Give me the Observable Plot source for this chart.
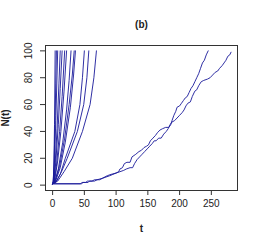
<!DOCTYPE html>
<html>
<head>
<meta charset="utf-8">
<script src="https://cdn.jsdelivr.net/npm/d3@7"></script>
<script src="https://cdn.jsdelivr.net/npm/@observablehq/plot@0.6"></script>
<style>
  html, body { margin: 0; padding: 0; background: #fff; }
  svg { display: block; }
</style>
</head>
<body>
<div id="chart"></div>
<script>
// Fast-growing paths (t, N)
const fast1 = [[0,1],[1,3],[2,15],[3,45],[4,100]];
const fast2 = [[0,1],[1,3],[2,12],[3,30],[4,52],[5,76],[6,100]];
const fast3 = [[0,1],[1,2],[3,18],[5,48],[7,82],[8,100]];
const fast4 = [[0,1],[2,3],[4,16],[7,42],[10,76],[12,100]];
const fast5 = [[0,1],[2,3],[5,17],[9,45],[12,72],[15,100]];
const fast6 = [[0,1],[2,2],[6,14],[11,40],[15,66],[19,100]];
const fast7 = [[0,1],[3,3],[8,18],[13,40],[18,70],[22,100]];
const fast8 = [[0,1],[3,2],[9,12],[16,32],[22,56],[26,78],[29,100]];
const fast9 = [[0,1],[4,3],[11,14],[19,35],[26,60],[31,82],[34,100]];
const fast10 = [[0,1],[4,2],[12,13],[20,32],[28,58],[33,82],[36,100]];
const fast11 = [[0,1],[5,2],[12,8],[20,20],[35,40],[43,60],[47,80],[50,100]];
const fast12 = [[0,1],[6,3],[14,10],[23,20],[39,40],[49,60],[54,80],[57,100]];
const fast13 = [[0,1],[8,3],[18,10],[31,20],[47,40],[59,60],[65,80],[69,100]];

// Slow paths
const slowA = [[0,1],[44,1],[46,2],[52,2],[55,3],[62,3],[66,4],[74,4],[78,5],[84,6],[90,7],[95,8],[100,9],[104,10],[106,12],[110,13],[113,16],[117,17],[122,17],[125,21],[131,23],[136,25],[140,26],[144,28],[148,29],[151,30],[154,33],[158,35],[162,37],[165,39],[169,41],[173,42],[178,43],[183,43],[186,45],[188,48],[191,52],[194,55],[196,58],[200,59],[203,61],[206,63],[209,65],[212,66],[215,69],[218,72],[221,74],[224,77],[227,80],[230,83],[233,87],[236,91],[239,93],[242,97],[245,100]];
const slowB = [[0,1],[46,1],[48,2],[56,2],[58,3],[66,3],[70,4],[78,5],[86,7],[92,8],[100,9],[106,10],[112,11],[116,12],[122,13],[126,13],[129,16],[133,19],[137,21],[141,23],[145,25],[149,27],[153,29],[157,31],[160,33],[163,33],[167,35],[171,35],[175,38],[179,40],[182,42],[185,45],[188,47],[192,48],[196,50],[200,52],[204,54],[207,56],[210,59],[213,61],[217,62],[220,66],[224,70],[227,71],[230,74],[234,77],[238,78],[244,79],[248,80],[252,82],[256,84],[260,85],[263,87],[267,89],[270,91],[273,93],[276,96],[279,97],[281,99]];

const xTicks = [0, 50, 100, 150, 200, 250];
const yTicks = [0, 20, 40, 60, 80, 100];
const titleText = "(b)";
const xLabel = "t";
const yLabel = "N(t)";

const allSeries = [fast1,fast2,fast3,fast4,fast5,fast6,fast7,fast8,fast9,fast10,fast11,fast12,fast13,slowA,slowB];
const data = allSeries.flatMap((s, i) => s.map(([t, n]) => ({t, n, id: i})));

const font = "Liberation Sans, Arial, Helvetica, sans-serif";
const col = "#1a1a9a";

const chart = Plot.plot({
  width: 260,
  height: 246,
  marginLeft: 45,
  marginRight: 23,
  marginTop: 45,
  marginBottom: 56,
  style: {fontFamily: font, fontSize: "10px", color: "#222", background: "#fff"},
  x: {domain: [-11.2, 291.2]},
  y: {domain: [-4, 104]},
  marks: [
    Plot.line(data, {x: "t", y: "n", z: "id", stroke: col, strokeWidth: 1, strokeOpacity: 0.9}),
    Plot.frame({stroke: "#333", strokeWidth: 1}),
    Plot.axisX(xTicks, {tickSize: 5, tickPadding: 4, fontSize: 10, stroke: "#333", label: null}),
    Plot.axisY(yTicks, {tickSize: 5, tickFormat: () => "", stroke: "#333", label: null}),
    Plot.text(yTicks, {y: d => d, text: d => String(d), frameAnchor: "left", dx: -17, rotate: -90, textAnchor: "middle", lineAnchor: "middle", fontSize: 10, fill: "#222"}),
    Plot.text([titleText], {text: d => d, frameAnchor: "top", dy: -21, lineAnchor: "middle", fontWeight: "bold", fontSize: 10, fill: "#222"}),
    Plot.text([xLabel], {text: d => d, frameAnchor: "bottom", dy: 38, lineAnchor: "middle", fontWeight: "bold", fontSize: 10, fill: "#222"}),
    Plot.text([yLabel], {text: d => d, frameAnchor: "left", dx: -40, rotate: -90, lineAnchor: "middle", textAnchor: "middle", fontWeight: "bold", fontSize: 10, fill: "#222"})
  ]
});
document.getElementById("chart").appendChild(chart);
</script>
</body>
</html>
